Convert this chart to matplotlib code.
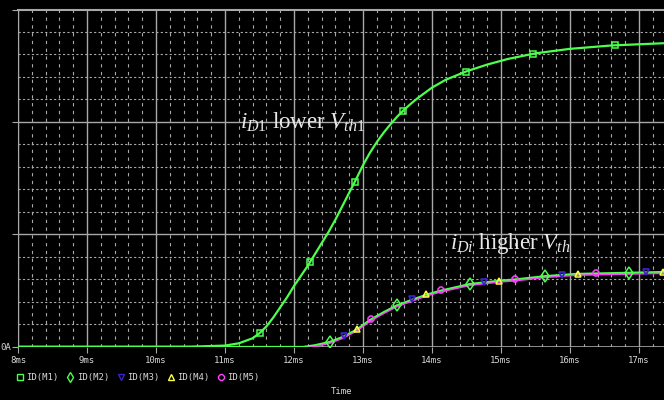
import numpy as np
import matplotlib
matplotlib.use("Agg")
import matplotlib.pyplot as plt
import matplotlib.transforms as mtransforms
from matplotlib.lines import Line2D

# drain currents, time in ms
t_m1 = [8.0, 10.5, 11.0, 11.2, 11.4, 11.5, 11.6, 11.7, 11.8, 11.9, 12.0, 12.1, 12.2,
        12.3, 12.4, 12.5, 12.6, 12.7, 12.8, 12.9, 13.0, 13.1, 13.2, 13.3, 13.4, 13.5,
        13.6, 13.7, 13.8, 14.0, 14.2, 14.5, 14.8, 15.1, 15.5, 16.0, 16.6, 17.36]
i_m1 = [0.0, 0.0, 0.01, 0.03, 0.075, 0.12, 0.18, 0.26, 0.35, 0.44, 0.54, 0.63, 0.72,
        0.82, 0.92, 1.02, 1.13, 1.25, 1.37, 1.49, 1.615, 1.725, 1.82, 1.905, 1.98, 2.05,
        2.11, 2.165, 2.215, 2.305, 2.375, 2.45, 2.51, 2.56, 2.61, 2.65, 2.68, 2.70]

t_hi = [8.0, 12.13, 12.3, 12.52, 12.71, 12.91, 13.10, 13.3, 13.49, 13.71, 13.92, 14.12,
        14.55, 14.99, 15.2, 15.64, 16.10, 16.87, 17.36]
i_hi = [0.0, 0.0, 0.015, 0.045, 0.09, 0.155, 0.24, 0.31, 0.37, 0.42, 0.465, 0.50,
        0.56, 0.59, 0.60, 0.63, 0.65, 0.66, 0.667]

# marker times for each trace
mk_m1 = [11.51, 12.23, 12.88, 13.58, 14.49, 15.46, 16.65]
mk_m2 = [12.52, 13.49, 14.55, 15.64, 16.86]
mk_m3 = [12.72, 13.71, 14.75, 15.88, 17.10]
mk_m4 = [12.92, 13.92, 14.97, 16.12, 17.35]
mk_m5 = [13.11, 14.13, 15.20, 16.37]

labels = ["ID(M1)", "ID(M2)", "ID(M3)", "ID(M4)", "ID(M5)"]
xticks = [8, 9, 10, 11, 12, 13, 14, 15, 16, 17]

GREEN = "#4cff4c"
MAG = "#ff40ff"
BLUE = "#3a22c8"
YEL = "#ffff40"
GRID = "#a8a8a8"
TXT = "#d8d8d8"

plt.rcParams["mathtext.fontset"] = "custom"
plt.rcParams["mathtext.rm"] = "Liberation Serif"
plt.rcParams["mathtext.it"] = "Liberation Serif:italic"

fig = plt.figure(figsize=(6.64, 4.0), dpi=100, facecolor="black")
ax = fig.add_axes([18 / 664, 1 - 346.7 / 400, 1 - 18 / 664, (346.7 - 9.5) / 400])
ax.set_facecolor("black")
ax.set_xlim(8, 8 + (664 - 18) / 69)
ax.set_ylim(0, 3)

# grid: solid at majors, dashed verticals / dotted horizontals at minors
for x in xticks:
    ax.axvline(x, color=GRID, lw=1, zorder=0)
for x in np.arange(8, 17.4, 0.2):
    if abs(x - round(x)) > 0.01:
        ax.axvline(x, color=GRID, lw=0.8, ls=(0, (3, 4)), zorder=0)
for y in [1, 2]:
    ax.axhline(y, color=GRID, lw=1, zorder=0)
for y in np.arange(0.2, 3, 0.2):
    if abs(y - round(y)) > 0.01:
        ax.axhline(y, color=GRID, lw=0.8, ls=(0, (2, 2)), zorder=0)
ax.axhline(3, color=GRID, lw=1.5, zorder=0, clip_on=False)
ax.axhline(0, color=GRID, lw=1.2, zorder=1)

for s in ax.spines.values():
    s.set_visible(False)
ax.spines["left"].set_visible(True)
ax.spines["left"].set_color(GRID)

ax.set_xticks(xticks)
ax.set_xticklabels([f"{x}ms" for x in xticks])
ax.set_yticks([0, 1, 2, 3])
ax.set_yticklabels(["0A", "", "", ""])
ax.tick_params(colors=GRID, labelcolor=TXT, length=4, labelsize=6.5)
for lab in ax.get_xticklabels() + ax.get_yticklabels():
    lab.set_family("DejaVu Sans Mono")
ax.tick_params(axis="y", pad=1)
ax.tick_params(axis="x", pad=3)

# lower-threshold device
ax.plot(t_m1, i_m1, color=GREEN, lw=1.6, zorder=4)
ax.plot(mk_m1, np.interp(mk_m1, t_m1, i_m1), ls="none", marker="s", ms=5,
        mfc="none", mec=GREEN, mew=1.1, zorder=6)

# higher-threshold devices (overlapping traces)
down = mtransforms.offset_copy(ax.transData, fig=fig, x=0, y=-1.2, units="dots")
ax.plot(t_hi, i_hi, color=MAG, lw=1.6, zorder=3, transform=down)
ax.plot(t_hi, i_hi, color=GREEN, lw=1.2, zorder=4)

ax.plot(mk_m2, np.interp(mk_m2, t_hi, i_hi), ls="none", marker="d", ms=6,
        mfc="none", mec=GREEN, mew=1.1, zorder=6)
ax.plot(mk_m3, np.interp(mk_m3, t_hi, i_hi), ls="none", marker="v", ms=5,
        mfc="none", mec=BLUE, mew=1.3, zorder=6)
ax.plot(mk_m4, np.interp(mk_m4, t_hi, i_hi), ls="none", marker="^", ms=5,
        mfc="none", mec=YEL, mew=1.1, zorder=6)
ax.plot(mk_m5, np.interp(mk_m5, t_hi, i_hi), ls="none", marker="8", ms=5,
        mfc="none", mec=MAG, mew=1.1, zorder=6)

ax.text(11.22, 2.0, r"$i_{\mathit{D1}}$ lower $V_{\mathit{th1}}$", color="#e8e8e8",
        fontsize=16.5, family="Liberation Serif", va="center", ha="left", zorder=7)
ax.text(14.26, 0.92, r"$i_{\mathit{Di}}$ higher $V_{\mathit{th}}$", color="#e8e8e8",
        fontsize=16.5, family="Liberation Serif", va="center", ha="left", zorder=7)

handles = [
    Line2D([], [], ls="none", marker="s", ms=4, mfc="none", mec=GREEN),
    Line2D([], [], ls="none", marker="d", ms=5, mfc="none", mec=GREEN),
    Line2D([], [], ls="none", marker="v", ms=4, mfc="none", mec=BLUE),
    Line2D([], [], ls="none", marker="^", ms=4, mfc="none", mec=YEL),
    Line2D([], [], ls="none", marker="8", ms=4, mfc="none", mec=MAG),
]
leg = fig.legend(handles, labels, loc="center left", bbox_to_anchor=(0.018, 0.057),
                 ncol=5, frameon=False, handlelength=0.8, handletextpad=0.3,
                 columnspacing=0.9, borderpad=0,
                 prop={"family": "DejaVu Sans Mono", "size": 6.5})
for t in leg.get_texts():
    t.set_color(TXT)

fig.text(342 / 664, 1 - 392 / 400, "Time", color=TXT, fontsize=6.5,
         family="DejaVu Sans Mono", ha="center", va="center")

fig.savefig("out.png", dpi=100, facecolor="black")
